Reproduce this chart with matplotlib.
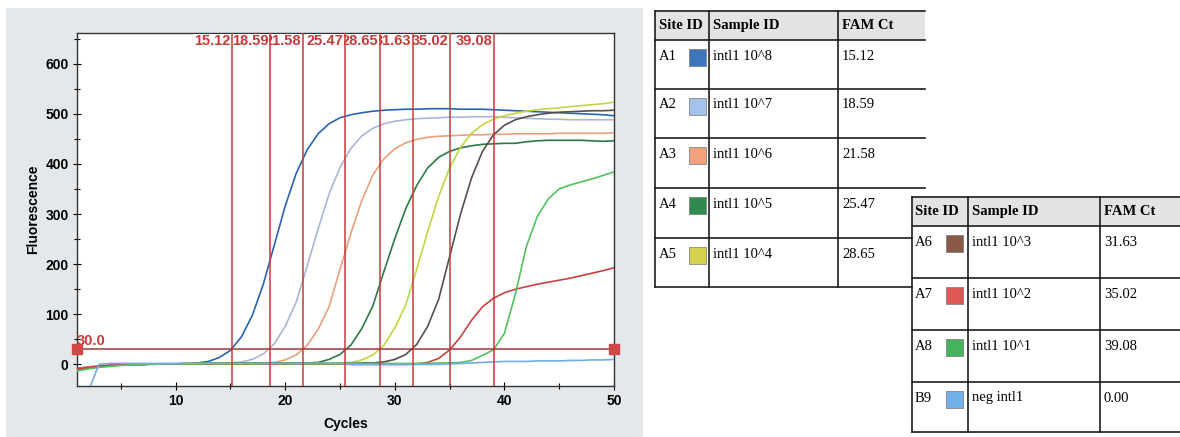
"""qPCR amplification plot (FAM, intl1 dilution series) next to its two Ct tables."""

import matplotlib

matplotlib.use("Agg")  # headless

import matplotlib.pyplot as plt  # noqa: E402
import numpy as np  # noqa: E402
from matplotlib.patches import Rectangle  # noqa: E402
from matplotlib.ticker import MultipleLocator  # noqa: E402

plt.rcParams["font.family"] = ["Liberation Sans", "DejaVu Sans"]

# --- data ----------------------------------------------------------------
cycles = np.arange(1, 51)

a1 = [-8, -5, -3, -2, -1, 0, 0, 1, 1, 1, 2, 3, 6, 14, 28, 55, 98, 160, 238, 316,
      381, 428, 460, 480, 492, 498, 502, 505, 507, 508, 509, 509, 510, 510, 510, 509, 509, 509, 508, 507,
      506, 505, 504, 503, 502, 501, 500, 499, 498, 496]
a2 = [-10, -6, -3, -2, -1, 0, 0, 1, 1, 1, 2, 2, 2, 3, 3, 5, 10, 21, 41, 76,
      124, 196, 270, 340, 393, 431, 456, 471, 480, 485, 488, 490, 491, 492, 493, 493, 494, 494, 494, 493,
      492, 491, 490, 489, 489, 488, 488, 488, 488, 488]
a3 = [-9, -6, -4, -2, -1, 0, 0, 1, 1, 1, 2, 2, 2, 3, 3, 3, 3, 3, 4, 9,
      19, 38, 70, 115, 190, 262, 328, 378, 410, 430, 442, 449, 453, 455, 456, 457, 458, 458, 459, 459,
      460, 460, 460, 460, 461, 461, 461, 461, 461, 462]
a4 = [-11, -7, -4, -2, -1, 0, 0, 1, 1, 1, 2, 2, 2, 2, 3, 3, 3, 3, 3, 3,
      3, 3, 4, 10, 20, 39, 72, 117, 185, 251, 311, 357, 392, 413, 425, 432, 436, 439, 440, 441,
      441, 444, 446, 447, 447, 447, 447, 446, 445, 446]
a5 = [-10, -6, -4, -2, -1, 0, 0, 1, 1, 1, 2, 2, 2, 2, 2, 2, 2, 2, 2, 2,
      2, 2, 2, 2, 3, 4, 9, 19, 38, 73, 119, 190, 265, 335, 392, 433, 461, 478, 489, 496,
      501, 505, 508, 510, 512, 514, 516, 518, 520, 523]
a6 = [-10, -7, -4, -2, -1, 0, 0, 1, 1, 1, 1, 2, 2, 2, 2, 2, 2, 2, 2, 2,
      2, 2, 2, 2, 2, 2, 3, 3, 5, 10, 20, 40, 76, 130, 215, 300, 372, 425, 458, 477,
      488, 494, 498, 501, 503, 504, 505, 506, 506, 507]
a7 = [-9, -6, -4, -2, -1, 0, 0, 1, 1, 1, 1, 1, 1, 1, 1, 1, 1, 1, 1, 1,
      1, 1, 1, 1, 1, 0, 0, 0, 0, 0, 0, 1, 4, 12, 29, 55, 88, 115, 132, 143,
      150, 155, 160, 164, 168, 172, 177, 182, 187, 193]
a8 = [-13, -9, -6, -4, -2, -1, 0, 0, 1, 1, 1, 1, 2, 2, 2, 2, 2, 2, 2, 2,
      2, 2, 2, 2, 2, 2, 2, 2, 2, 2, 2, 2, 2, 3, 3, 4, 8, 18, 29, 62,
      140, 235, 295, 330, 350, 358, 364, 370, 377, 384]
b9 = [-150, -55, 0, 2, 2, 2, 2, 2, 2, 2, 2, 2, 2, 2, 2, 2, 2, 2, 2, 2,
      2, 2, 2, 2, 2, 0, 0, 0, 0, 0, 0, 0, 0, 0, 1, 2, 3, 4, 5, 6,
      6, 6, 7, 7, 7, 8, 8, 9, 9, 10]

site_ids = ["A1", "A2", "A3", "A4", "A5", "A6", "A7", "A8", "B9"]
sample_ids = ["intl1 10^8", "intl1 10^7", "intl1 10^6", "intl1 10^5", "intl1 10^4",
              "intl1 10^3", "intl1 10^2", "intl1 10^1", "neg intl1"]
fam_ct = [15.12, 18.59, 21.58, 25.47, 28.65, 31.63, 35.02, 39.08, 0.00]
threshold = 30.0

curves = [a1, a2, a3, a4, a5, a6, a7, a8, b9]
line_colors = ["#2b63b3", "#a9b6d8", "#e9a07c", "#2b7a45", "#c6d444",
               "#5a4e4a", "#c74343", "#52c261", "#72ace4"]
swatch_colors = ["#3d76bb", "#a4c2ec", "#f0a27c", "#2f8a4e", "#d6d24e",
                 "#8a5a48", "#e05555", "#45b25e", "#74b0ea"]

RED = "#c43c3a"
W, H = 1180, 437

fig = plt.figure(figsize=(W / 100, H / 100), dpi=100)

# background layer in pixel coordinates: grey panel behind the plot + tables
bg = fig.add_axes([0, 0, 1, 1], zorder=-1)
bg.set_xlim(0, W)
bg.set_ylim(H, 0)
bg.axis("off")
bg.add_patch(Rectangle((6, 8), 637, 429, facecolor="#e4e8eb", edgecolor="none"))

# --- amplification plot ---------------------------------------------------
ax = fig.add_axes([77 / W, 1 - 386 / H, (614 - 77) / W, (386 - 33) / H])
for vals, col in zip(curves, line_colors):
    ax.plot(cycles, vals, color=col, lw=1.2, zorder=3)

ax.set_xlim(1, 50)
ax.set_ylim(-43, 661)
ax.xaxis.set_major_locator(MultipleLocator(10))
ax.xaxis.set_minor_locator(MultipleLocator(5))
ax.yaxis.set_major_locator(MultipleLocator(100))
ax.yaxis.set_minor_locator(MultipleLocator(50))
ax.tick_params(which="major", direction="inout", length=6, width=0.8, labelsize=10, pad=3)
ax.tick_params(which="minor", direction="inout", length=4, width=0.8)
for lab in ax.get_xticklabels() + ax.get_yticklabels():
    lab.set_fontweight("bold")
for sp in ax.spines.values():
    sp.set_color("#333333")
    sp.set_linewidth(1.0)
ax.set_xlabel("Cycles", fontsize=10, fontweight="bold", labelpad=6)
ax.set_ylabel("Fluorescence", fontsize=10, fontweight="bold", labelpad=4)

# Ct markers: vertical line per sample, label right-aligned against its line
cts = [c for c in fam_ct if c > 0]
for i, ct in enumerate(cts):
    ax.axvline(ct, color=RED, lw=1.1, zorder=12)
    ax.text(ct - 0.15, 0.976, f"{ct:.2f}", transform=ax.get_xaxis_transform(),
            ha="right", va="center", color=RED, fontsize=10.5, fontweight="bold",
            bbox=dict(facecolor="white", edgecolor="none", pad=0.3), zorder=10 - i * 0.1)

# threshold
ax.plot([1, 50], [threshold, threshold], color="#9b3a3a", lw=1.1, zorder=12)
ax.plot([1, 50], [threshold, threshold], ls="none", marker="s", ms=6.5,
        color="#d04848", clip_on=False, zorder=13)
ax.text(1.0, threshold + 16, f"{threshold:.1f}", ha="left", va="center",
        color=RED, fontsize=10.5, fontweight="bold", zorder=11)

# --- Ct tables --------------------------------------------------------------
SERIF = ["Liberation Serif", "DejaVu Serif"]
EDGE = "#1e1e1e"


def draw_table(x0, x1, y_top, y_head, row_tops, row_bottom, cols, rows, line_x1=None):
    """Header band + ruled rows; text columns at cols (site, swatch, sample, ct)."""
    bg.add_patch(Rectangle((x0, y_top), x1 - x0, row_bottom - y_top,
                           facecolor="white", edgecolor="none", zorder=1))
    bg.add_patch(Rectangle((x0, y_top), x1 - x0, y_head - y_top,
                           facecolor="#e2e3e3", edgecolor="none", zorder=1))
    for y in [y_top, y_head] + row_tops[1:] + [row_bottom]:
        right = x1 if (line_x1 is None or y < line_x1[0]) else line_x1[1]
        bg.plot([x0, right], [y, y], color=EDGE, lw=1.2, zorder=2)
    for x in (x0, cols[2] - 4, cols[3] - 4):
        bg.plot([x, x], [y_top, row_bottom], color=EDGE, lw=1.2, zorder=2)
    hy = (y_top + y_head) / 2
    for x, txt in ((cols[0], "Site ID"), (cols[2], "Sample ID"), (cols[3], "FAM Ct")):
        bg.text(x, hy, txt, family=SERIF, fontsize=10.5, fontweight="bold",
                ha="left", va="center", zorder=3)
    for top, (site, sample, ct, sw) in zip(row_tops, rows):
        bg.text(cols[0], top + 16, site, family=SERIF, fontsize=10.5, va="center", zorder=3)
        bg.add_patch(Rectangle((cols[1], top + 9), 17, 17, facecolor=sw,
                               edgecolor="#777777", lw=0.5, zorder=3))
        bg.text(cols[2], top + 16, sample, family=SERIF, fontsize=10.5, va="center", zorder=3)
        bg.text(cols[3], top + 16, f"{ct:.2f}", family=SERIF, fontsize=10.5, va="center", zorder=3)


rows = list(zip(site_ids, sample_ids, fam_ct, swatch_colors))

draw_table(655, 925, 11, 40, [40, 89, 138, 188, 238], 287,
           (659, 689, 713, 842), rows[:5], line_x1=(200, 912))

# second table sits on top of the first one's lower right corner
bg2_z = 5
draw_table(912, 1185, 197, 226, [226, 278, 330, 382], 432,
           (915, 946, 972, 1104), rows[5:])

fig.savefig("out.png", dpi=100)
